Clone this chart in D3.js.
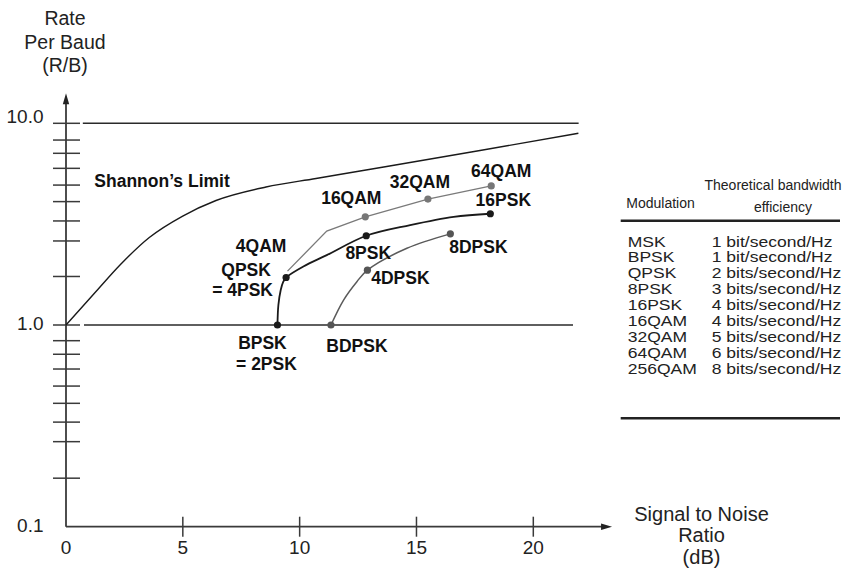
<!DOCTYPE html>
<html>
<head>
<meta charset="utf-8">
<script src="https://cdn.jsdelivr.net/npm/d3@7"></script>
<style>
  html, body { margin: 0; padding: 0; background: #fff; }
  svg { display: block; font-family: "Liberation Sans", Arial, Helvetica, sans-serif; }
</style>
</head>
<body>
<svg id="chart" width="848" height="571"></svg>
<script>
// ---------------- DATA ----------------
const xTickValues = [0, 5, 10, 15, 20];
const xTickMarks  = [5, 10, 15, 20];
const yTickValues = [0.1, 1, 10];
const yTickLabels = ["0.1", "1.0", "10.0"];
// hand-drawn minor ticks, positions
const yMinorTicks = [0.174, 0.264, 0.330, 0.409, 0.498, 0.605, 0.716, 0.836,
                     1.74, 2.61, 3.28, 4.09, 4.94, 5.98, 7.10, 8.26];
const referenceLevels = [1, 10];

// Shannon's limit curve (SNR dB, rate per baud)
const shannonSnr  = [0, 1.284, 2.311, 3.565, 4.995, 6.42, 8.56, 10.70, 12.84, 17.72, 21.93];
const shannonRate = [1.0, 1.466, 1.984, 2.716, 3.470, 4.143, 4.833, 5.325, 5.868, 7.331, 8.920];

// PSK family (black)
const pskSnr   = [9.05, 9.09, 9.19, 9.30, 9.42, 10.16, 11.16, 12.85, 14.73, 16.59, 18.16];
const pskRate  = [1.0, 1.256, 1.49, 1.64, 1.72, 1.95, 2.22, 2.77, 3.13, 3.44, 3.56];
const pskNames = ["BPSK", null, null, null, "QPSK", null, null, "8PSK", null, null, "16PSK"];

// QAM family (grey)
const qamSnr   = [9.48, 11.16, 12.81, 15.49, 18.20];
const qamRate  = [1.85, 2.92, 3.44, 4.21, 4.89];
const qamNames = [null, null, "16QAM", "32QAM", "64QAM"];

// DPSK family (dark grey)
const dpskSnr   = [11.34, 11.88, 12.45, 12.90, 14.59, 16.45];
const dpskRate  = [1.0, 1.33, 1.64, 1.87, 2.40, 2.83];
const dpskNames = ["BDPSK", null, null, "4DPSK", null, "8DPSK"];

// Table
const tableModulations = ["MSK", "BPSK", "QPSK", "8PSK", "16PSK", "16QAM", "32QAM", "64QAM", "256QAM"];
const tableEfficiency  = ["1 bit/second/Hz", "1 bit/second/Hz", "2 bits/second/Hz", "3 bits/second/Hz",
                          "4 bits/second/Hz", "4 bits/second/Hz", "5 bits/second/Hz", "6 bits/second/Hz",
                          "8 bits/second/Hz"];

// ---------------- LAYOUT ----------------
const svg = d3.select("#chart");
const x = d3.scaleLinear().domain([0, 20]).range([66, 533.3]);
const y = d3.scaleLog().domain([0.1, 10]).range([526.7, 123.3]);
const axisColor = "#3a3a3a";

const zip = (xs, ys, ns) => xs.map((v, i) => ({ x: v, y: ys[i], name: ns ? ns[i] : null }));

// reference lines at 1.0 and 10.0
const refSpan = { 1: [0.77, 21.7], 10: [0.72, 21.94] };
svg.append("g").selectAll("line").data(referenceLevels).join("line")
  .attr("x1", d => x(refSpan[d][0])).attr("x2", d => x(refSpan[d][1]))
  .attr("y1", d => y(d)).attr("y2", d => y(d))
  .attr("stroke", "#2a2a2a").attr("stroke-width", 1.5);

// axes
const xEnd = 23.37, yTop = 14.1;
svg.append("line").attr("x1", x(0)).attr("x2", x(xEnd) - 8)
  .attr("y1", y(0.1)).attr("y2", y(0.1)).attr("stroke", axisColor).attr("stroke-width", 1.8);
svg.append("path")
  .attr("d", `M${x(xEnd)},${y(0.1)} L${x(xEnd) - 11},${y(0.1) - 3.2} L${x(xEnd) - 11},${y(0.1) + 3.2} Z`)
  .attr("fill", "#222");
svg.append("line").attr("x1", x(0)).attr("x2", x(0))
  .attr("y1", y(0.1)).attr("y2", y(yTop) + 8).attr("stroke", axisColor).attr("stroke-width", 1.8);
svg.append("path")
  .attr("d", `M${x(0)},${y(yTop)} L${x(0) - 3.2},${y(yTop) + 11} L${x(0) + 3.2},${y(yTop) + 11} Z`)
  .attr("fill", "#222");

// x tick marks and labels
svg.append("g").selectAll("line").data(xTickMarks).join("line")
  .attr("x1", d => x(d)).attr("x2", d => x(d))
  .attr("y1", y(0.1) - 10).attr("y2", y(0.1) + 10)
  .attr("stroke", axisColor).attr("stroke-width", 1.5);
svg.append("g").selectAll("text").data(xTickValues).join("text")
  .attr("x", d => x(d)).attr("y", y(0.1) + 21).attr("dy", "0.35em")
  .attr("text-anchor", "middle").attr("font-size", 19).attr("fill", "#222")
  .text(d => d);

// y ticks (major at 1 and 10, minor hand-drawn)
svg.append("g").selectAll("line").data(yMinorTicks.concat([1, 10])).join("line")
  .attr("x1", 53).attr("x2", 80)
  .attr("y1", d => y(d)).attr("y2", d => y(d))
  .attr("stroke", axisColor).attr("stroke-width", 1.5);
const yLabelShift = { 0.1: -1, 1: -2, 10: -7 };
svg.append("g").selectAll("text").data(yTickValues).join("text")
  .attr("x", 43.5).attr("y", d => y(d) + yLabelShift[d]).attr("dy", "0.35em")
  .attr("text-anchor", "end").attr("font-size", 19).attr("fill", "#222")
  .text((d, i) => yTickLabels[i]);

// axis titles
svg.append("text").attr("text-anchor", "middle").attr("font-size", 19.5).attr("fill", "#222")
  .selectAll("tspan").data(["Rate", "Per Baud", "(R/B)"]).join("tspan")
  .attr("x", 65).attr("y", (d, i) => 25 + i * 23.5).text(d => d);
svg.append("text").attr("text-anchor", "middle").attr("font-size", 20).attr("fill", "#222")
  .selectAll("tspan").data(["Signal to Noise", "Ratio", "(dB)"]).join("tspan")
  .attr("x", 701.5).attr("y", (d, i) => 520.5 + i * 21.5).text(d => d);

// curves
const line = d3.line().x(d => x(d.x)).y(d => y(d.y));
const smooth = d3.line().x(d => x(d.x)).y(d => y(d.y)).curve(d3.curveCatmullRom.alpha(0.5));
const mono = d3.line().x(d => x(d.x)).y(d => y(d.y)).curve(d3.curveMonotoneX);

svg.append("path").datum(zip(shannonSnr, shannonRate)).attr("d", mono)
  .attr("fill", "none").attr("stroke", "#1a1a1a").attr("stroke-width", 1.4);

const series = [
  { pts: zip(qamSnr, qamRate, qamNames),   gen: line,   color: "#7a7a7a", dot: "#777", w: 1.3 },
  { pts: zip(dpskSnr, dpskRate, dpskNames), gen: smooth, color: "#5a5a5a", dot: "#555", w: 1.5 },
  { pts: zip(pskSnr, pskRate, pskNames),   gen: smooth, color: "#1a1a1a", dot: "#1a1a1a", w: 1.8 }
];
series.forEach(s => {
  svg.append("path").datum(s.pts).attr("d", s.gen)
    .attr("fill", "none").attr("stroke", s.color).attr("stroke-width", s.w);
  svg.append("g").selectAll("circle").data(s.pts.filter(p => p.name)).join("circle")
    .attr("cx", d => x(d.x)).attr("cy", d => y(d.y)).attr("r", 3.6).attr("fill", s.dot);
});

// point labels (offsets in px from the named point)
const allPts = series.flatMap(s => s.pts).filter(p => p.name);
const ptByName = Object.fromEntries(allPts.map(p => [p.name, p]));
const labelLayout = [
  ["64QAM", "64QAM", 10, -15], ["32QAM", "32QAM", -8, -17], ["16QAM", "16QAM", -14, -19],
  ["16PSK", "16PSK", 13, -14], ["8PSK", "8PSK", 2, 17], ["8DPSK", "8DPSK", 28, 13],
  ["4DPSK", "4DPSK", 33, 8], ["BDPSK", "BDPSK", 26, 21],
  ["4QAM", "QPSK", -25, -32], ["QPSK", "QPSK", -40, -8], ["= 4PSK", "QPSK", -43.5, 12],
  ["BPSK", "BPSK", -15, 18], ["= 2PSK", "BPSK", -11, 39]
];
svg.append("g").selectAll("text").data(labelLayout).join("text")
  .attr("x", d => x(ptByName[d[1]].x) + d[2])
  .attr("y", d => y(ptByName[d[1]].y) + d[3])
  .attr("dy", "0.35em").attr("text-anchor", "middle")
  .attr("font-size", 17.5).attr("font-weight", "bold").attr("fill", "#111")
  .text(d => d[0]);
svg.append("text").attr("x", 94.3).attr("y", 180.7).attr("dy", "0.35em")
  .attr("font-size", 17.5).attr("font-weight", "bold").attr("fill", "#111")
  .text("Shannon\u2019s Limit");

// table
const tbl = svg.append("g").attr("fill", "#222");
tbl.append("text").attr("x", 660.5).attr("y", 203.3).attr("dy", "0.35em")
  .attr("text-anchor", "middle").attr("font-size", 14).text("Modulation");
tbl.append("text").attr("x", 773).attr("y", 185).attr("dy", "0.35em")
  .attr("text-anchor", "middle").attr("font-size", 14).text("Theoretical bandwidth");
tbl.append("text").attr("x", 783).attr("y", 207.3).attr("dy", "0.35em")
  .attr("text-anchor", "middle").attr("font-size", 14).text("efficiency");
tbl.selectAll("line").data([220.7, 418.3]).join("line")
  .attr("x1", 620.7).attr("x2", 840).attr("y1", d => d).attr("y2", d => d)
  .attr("stroke", "#222").attr("stroke-width", 2.4);
const rowY = d3.scaleLinear().domain([0, tableModulations.length - 1]).range([241.7, 369.3]);
const rowStretch = 1.27;
tbl.append("g").selectAll("text").data(tableModulations).join("text")
  .attr("transform", (d, i) => `translate(627.7,${rowY(i)}) scale(${rowStretch},1)`)
  .attr("dy", "0.35em").attr("font-size", 13.8).text(d => d);
tbl.append("g").selectAll("text").data(tableEfficiency).join("text")
  .attr("transform", (d, i) => `translate(711.7,${rowY(i)}) scale(${rowStretch},1)`)
  .attr("dy", "0.35em").attr("font-size", 13.8).text(d => d);
</script>
</body>
</html>
